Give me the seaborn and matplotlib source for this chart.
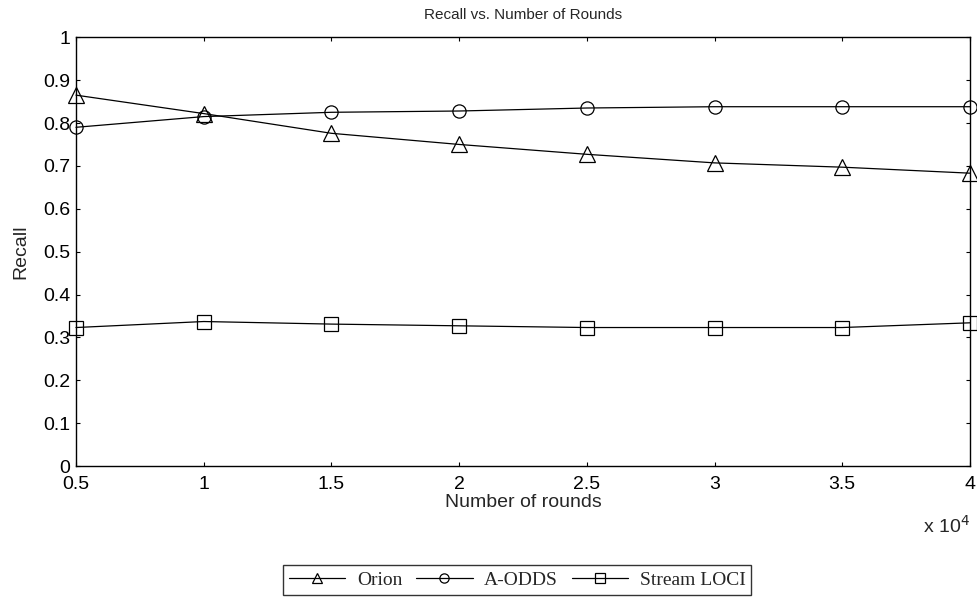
import numpy as np
import pandas as pd
import matplotlib
matplotlib.use("Agg")
import matplotlib.pyplot as plt
from matplotlib.ticker import FuncFormatter, MultipleLocator
import seaborn as sns

# data
rounds = [5000, 10000, 15000, 20000, 25000, 30000, 35000, 40000]
orion = [0.865, 0.822, 0.776, 0.750, 0.727, 0.707, 0.697, 0.683]
a_odds = [0.790, 0.815, 0.825, 0.828, 0.835, 0.838, 0.838, 0.838]
stream_loci = [0.323, 0.337, 0.331, 0.327, 0.323, 0.323, 0.323, 0.334]

series_names = ["Orion", "A-ODDS", "Stream LOCI"]
series_values = [orion, a_odds, stream_loci]
series_markers = ["^", "o", "s"]
marker_sizes = [11, 9.5, 9.5]

sns.set_style("ticks")
plt.rcParams["font.family"] = ["Liberation Sans", "DejaVu Sans"]

fig = plt.figure(figsize=(9.78, 6.01), dpi=100)
ax = fig.add_axes([0.0777, 0.2246, 0.9141, 0.7134])

for name, vals, mk, ms in zip(series_names, series_values, series_markers, marker_sizes):
    df = pd.DataFrame({"rounds": rounds, "recall": vals})
    sns.lineplot(data=df, x="rounds", y="recall", ax=ax, color="black",
                 linewidth=0.9, marker=mk, markersize=ms,
                 markerfacecolor="none", markeredgecolor="black",
                 markeredgewidth=0.9, label=name, clip_on=False)

ax.set_xlim(5000, 40000)
ax.set_ylim(0, 1)
ax.xaxis.set_major_locator(MultipleLocator(5000))
ax.yaxis.set_major_locator(MultipleLocator(0.1))
ax.xaxis.set_major_formatter(FuncFormatter(lambda v, p: "%g" % (v / 1e4)))
ax.yaxis.set_major_formatter(FuncFormatter(lambda v, p: "%g" % round(v, 1)))
ax.tick_params(direction="in", length=3, width=0.8, top=True, right=True,
               labelsize=14, colors="black")
ax.tick_params(axis="x", pad=7)
ax.tick_params(axis="y", pad=4)
for sp in ax.spines.values():
    sp.set_visible(True)
    sp.set_linewidth(1.0)
    sp.set_color("black")

ax.set_title("Recall vs. Number of Rounds", fontsize=11, pad=13)
ax.set_xlabel("Number of rounds", fontsize=14, labelpad=1)
ax.set_ylabel("Recall", fontsize=14, labelpad=10)
fig.text(0.944, 0.125, "x 10$^4$", fontsize=14, ha="left", va="center")

ax.legend_.remove()
handles, labels = ax.get_legend_handles_labels()
leg = fig.legend(handles, labels, loc="center", bbox_to_anchor=(0.529, 0.035),
                 ncol=3, frameon=True, fancybox=False, edgecolor="black",
                 prop={"family": "Liberation Serif", "size": 14},
                 handlelength=2.9, handletextpad=0.6, columnspacing=0.7,
                 borderpad=0.3, borderaxespad=0, markerscale=0.7)
leg.get_frame().set_linewidth(1.0)

fig.savefig("out.png", dpi=100, facecolor="white")
